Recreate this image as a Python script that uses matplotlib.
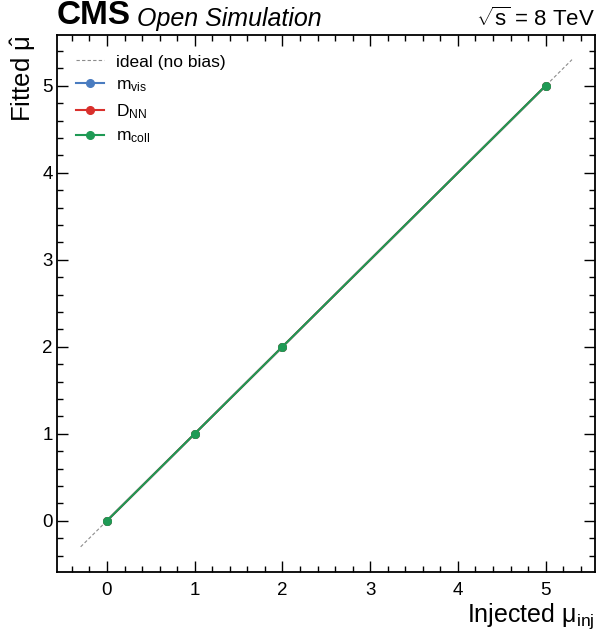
import matplotlib
matplotlib.use("Agg")
import matplotlib.pyplot as plt
from matplotlib.ticker import MultipleLocator

# ------------- DATA -------------
mu_injected = [0, 1, 2, 5]
mu_fit_mvis = [0, 1, 2, 5]
mu_fit_dnn = [0, 1, 2, 5]
mu_fit_mcoll = [0, 1, 2, 5]
ideal_range = [-0.3, 5.3]
# --------------------------------

plt.rcParams["font.family"] = ["Liberation Sans", "DejaVu Sans"]
plt.rcParams["mathtext.fontset"] = "custom"
plt.rcParams["mathtext.rm"] = "Liberation Sans"
plt.rcParams["mathtext.it"] = "Liberation Sans:italic"
plt.rcParams["mathtext.bf"] = "Liberation Sans:bold"
plt.rcParams["mathtext.default"] = "regular"

fig = plt.figure(figsize=(5.96, 6.3), dpi=100)
ax = fig.add_axes([0.0956, 0.092, 0.9024, 0.852])

ax.plot(ideal_range, ideal_range, ls=(0, (3, 2)), color="#8c8c8c", lw=0.8, label="ideal (no bias)")
ax.plot(mu_injected, mu_fit_mvis, "-o", color="#4a7cc0", lw=1.5, ms=5.5, label=r"m$_{\mathrm{vis}}$")
ax.plot(mu_injected, mu_fit_dnn, "-o", color="#d9302c", lw=1.5, ms=5.5, label=r"D$_{\mathrm{NN}}$")
ax.plot(mu_injected, mu_fit_mcoll, "-o", color="#1f9a55", lw=1.5, ms=5.5, label=r"m$_{\mathrm{coll}}$")

ax.set_xlim(-0.57, 5.56)
ax.set_ylim(-0.59, 5.58)

ax.xaxis.set_major_locator(MultipleLocator(1))
ax.yaxis.set_major_locator(MultipleLocator(1))
ax.xaxis.set_minor_locator(MultipleLocator(0.2))
ax.yaxis.set_minor_locator(MultipleLocator(0.2))
ax.tick_params(which="both", direction="in", top=True, right=True, labelsize=13.5, width=1)
ax.tick_params(which="major", length=8)
ax.tick_params(axis="x", which="major", pad=7)
ax.tick_params(axis="y", which="major", pad=3)
ax.tick_params(which="minor", length=4.5)
for sp in ax.spines.values():
    sp.set_linewidth(1.3)

ax.set_xlabel(r"Injected μ$_{\mathrm{inj}}$", fontsize=18, loc="right", labelpad=2)
ax.set_ylabel(r"Fitted $\hat{\mu}$", fontsize=18.5, loc="top", labelpad=3)

ax.legend(loc="upper left", frameon=False, fontsize=12.5, handlelength=1.6,
          borderaxespad=0.8, borderpad=0.3, labelspacing=0.45, handletextpad=0.7)

ax.text(0.0, 1.008, "CMS", transform=ax.transAxes, fontsize=24, fontweight="bold",
        ha="left", va="bottom")
ax.text(0.148, 1.008, "Open Simulation", transform=ax.transAxes, fontsize=18,
        style="italic", ha="left", va="bottom")
ax.text(1.0, 1.008, r"$\sqrt{s}$ = 8 TeV", transform=ax.transAxes, fontsize=16,
        ha="right", va="bottom")

fig.savefig("out.png", dpi=100)
